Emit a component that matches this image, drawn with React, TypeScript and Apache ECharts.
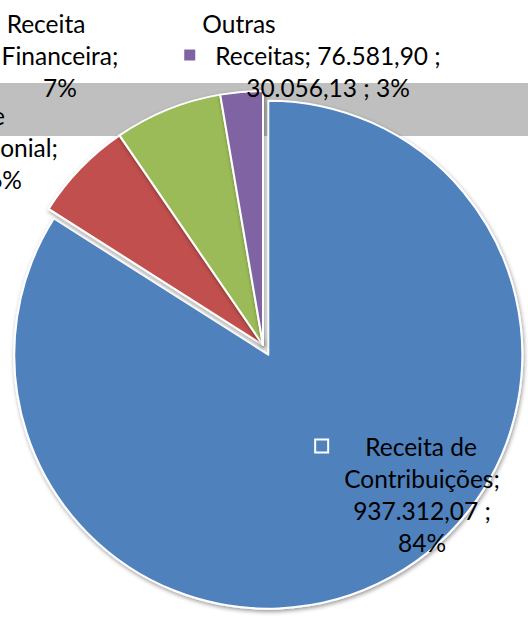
import React, { useEffect, useRef } from 'react';
import * as echarts from 'echarts';

const categories = ['Receita de Contribuições', 'Receita de Patrimonial', 'Receita Financeira', 'Outras Receitas'];
const values = [937312.07, 71870.0, 76581.9, 30056.13];
const colors = ['#4f81bd', '#c0504d', '#9bbb59', '#8064a2'];

const FONT = 'Lato';
const FS = 24.5;
const LH = 32;
const CENTER = [263, 345];
const RADIUS = 254;
const EXPLODE = 11;

function fmtBR(v: number): string {
  const [i, d] = v.toFixed(2).split('.');
  return i.replace(/\B(?=(\d{3})+(?!\d))/g, '.') + ',' + d;
}
function splitName(name: string): [string, string] {
  const idx = name.lastIndexOf(' ');
  return [name.slice(0, idx), name.slice(idx + 1)];
}

const labelLayouts: any[] = [
  { x: 422, y: 494, align: 'center', verticalAlign: 'middle' },
  { x: 58, y: 147, align: 'right', verticalAlign: 'middle' },
  { x: 60, y: 55, align: 'center', verticalAlign: 'middle' },
  { x: 328, y: 55, align: 'center', verticalAlign: 'middle' },
];

function labelFor(i: number) {
  const base = { show: true, position: 'inside', color: '#000', fontFamily: FONT, fontSize: FS, lineHeight: LH };
  const [a, b] = splitName(categories[i]);
  if (i === 0) {
    return {
      ...base,
      formatter: (p: any) => `{k|}{g|}${a}{r|}\n${b};\n${fmtBR(p.value)} ;\n${Math.round(p.percent)}%`,
      rich: {
        k: { width: 11, height: 11, borderColor: '#fff', borderWidth: 2, backgroundColor: colors[0] },
        g: { width: 38 },
        r: { width: 51 },
      },
    };
  }
  if (i === 1) {
    return {
      ...base,
      formatter: (p: any) => `${a}{p1|}\n${b};\n${Math.round(p.percent)}%{p2|}`,
      rich: { p1: { width: 53 }, p2: { width: 36 } },
    };
  }
  if (i === 2) {
    return {
      ...base,
      formatter: (p: any) => `${a}{f1|}\n${b};\n${Math.round(p.percent)}%`,
      rich: { f1: { width: 28 } },
    };
  }
  return {
    ...base,
    formatter: (p: any) =>
      `${a}{o1|}\n{m|}{og|}${b}; ${fmtBR(values[2])} ;{or|}\n${fmtBR(p.value)} ; ${Math.round(p.percent)}%`,
    rich: {
      o1: { width: 178 },
      m: { width: 11, height: 11, backgroundColor: colors[3] },
      og: { width: 20 },
      or: { width: 31 },
    },
  };
}

export default function App() {
  const ref = useRef<HTMLDivElement>(null);
  useEffect(() => {
    if (!ref.current) return;
    const chart = echarts.init(ref.current, undefined, { renderer: 'svg' });
    const itemStyleBase = {
      borderColor: '#fff',
      borderWidth: 2,
      shadowBlur: 4,
      shadowOffsetX: 1,
      shadowOffsetY: 2,
      shadowColor: 'rgba(0,0,0,0.4)',
    };
    const hidden = { color: 'rgba(0,0,0,0)', borderWidth: 0, shadowBlur: 0, shadowColor: 'rgba(0,0,0,0)' };
    const total = values.reduce((s, v) => s + v, 0);
    const mid = ((values[0] / total) * Math.PI);
    const explodedCenter = [CENTER[0] + EXPLODE * Math.sin(mid), CENTER[1] - EXPLODE * Math.cos(mid)];
    const common = {
      type: 'pie',
      radius: RADIUS,
      startAngle: 90,
      clockwise: true,
      avoidLabelOverlap: false,
      labelLine: { show: false },
      emphasis: { disabled: true },
      silent: true,
      labelLayout: (params: any) => ({ ...labelLayouts[params.dataIndex], hideOverlap: false }),
    };
    chart.setOption({
      animation: false,
      backgroundColor: '#fff',
      graphic: [
        { type: 'rect', z: 0, shape: { x: 0, y: 83, width: 528, height: 53 }, style: { fill: '#bfbfbf' } },
      ],
      series: [
        {
          ...common,
          z: 2,
          center: explodedCenter,
          data: categories.map((name, i) => ({
            name,
            value: values[i],
            itemStyle: i === 0 ? { ...itemStyleBase, color: colors[i] } : hidden,
            label: i === 0 ? labelFor(i) : { show: false },
          })),
        },
        {
          ...common,
          z: 3,
          center: CENTER,
          data: categories.map((name, i) => ({
            name,
            value: values[i],
            itemStyle: i === 0 ? hidden : { ...itemStyleBase, color: colors[i] },
            label: i === 0 ? { show: false } : labelFor(i),
          })),
        },
      ],
    });
    return () => chart.dispose();
  }, []);
  return <div ref={ref} style={{ position: 'fixed', left: 0, top: 0, width: 528, height: 619 }} />;
}
